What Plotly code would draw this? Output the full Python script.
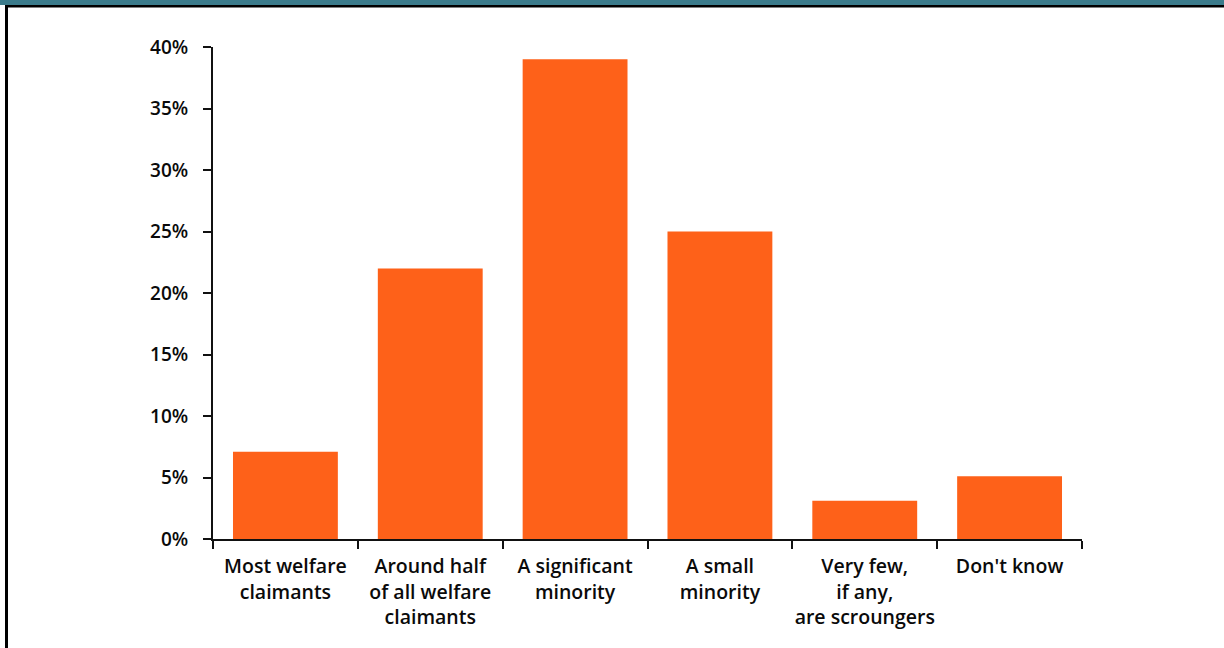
import plotly.graph_objects as go

# Survey answers and share of respondents (%)
categories = [
    "Most welfare<br>claimants",
    "Around half<br>of all welfare<br>claimants",
    "A significant<br>minority",
    "A small<br>minority",
    "Very few,<br>if any,<br>are scroungers",
    "Don't know",
]
shares = [7.1, 22.0, 39.0, 25.0, 3.1, 5.1]
y_ticks = [0, 5, 10, 15, 20, 25, 30, 35, 40]
y_tick_text = [f"{v}%" for v in y_ticks]

W, H = 1224, 648
L, R, T, B = 213, 142, 47, 109
pw, ph = W - L - R, H - T - B


def px_x(p):
    return (p - L) / pw


def px_y(p):
    return (H - B - p) / ph


fig = go.Figure(
    go.Bar(
        x=categories,
        y=shares,
        marker=dict(color="#FE6119", line=dict(width=0)),
        hoverinfo="x+y",
    )
)

font_family = "'Open Sans', Lato, sans-serif"

fig.update_layout(
    width=W,
    height=H,
    margin=dict(l=L, r=R, t=T, b=B, autoexpand=False),
    paper_bgcolor="white",
    plot_bgcolor="white",
    bargap=0.276,
    showlegend=False,
    font=dict(family=font_family, color="#0a0a0a", size=18),
    xaxis=dict(
        showline=True,
        linecolor="#111111",
        linewidth=2,
        ticks="outside",
        tickson="boundaries",
        ticklen=8,
        tickwidth=2,
        tickcolor="#111111",
        showgrid=False,
        tickangle=0,
        automargin=False,
        tickfont=dict(size=19.5, weight=600),
        ticklabelstandoff=9,
        fixedrange=True,
    ),
    yaxis=dict(
        range=[0, 40],
        tickvals=y_ticks,
        ticktext=y_tick_text,
        showline=True,
        linecolor="#111111",
        linewidth=2,
        ticks="outside",
        ticklen=8,
        tickwidth=2,
        tickcolor="#111111",
        showgrid=False,
        zeroline=False,
        automargin=False,
        tickfont=dict(size=19, weight=600),
        ticklabelstandoff=11,
        fixedrange=True,
    ),
    shapes=[
        # teal header band
        dict(type="rect", xref="paper", yref="paper",
             x0=px_x(0), x1=px_x(W), y0=px_y(0), y1=px_y(5),
             fillcolor="#3B7B8B", line=dict(width=0), layer="above"),
        # dark rule under the band
        dict(type="rect", xref="paper", yref="paper",
             x0=px_x(5), x1=px_x(W), y0=px_y(5), y1=px_y(7.5),
             fillcolor="#000000", line=dict(width=0), layer="above"),
        # left frame edge
        dict(type="rect", xref="paper", yref="paper",
             x0=px_x(5), x1=px_x(8), y0=px_y(5), y1=px_y(H),
             fillcolor="#000000", line=dict(width=0), layer="above"),
    ],
)

fig.write_html("out.html")
